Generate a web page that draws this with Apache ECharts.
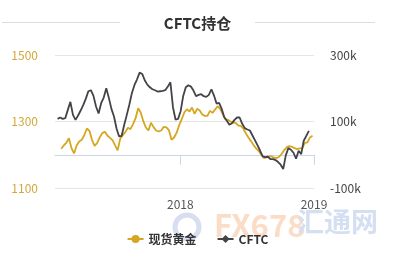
<!DOCTYPE html>
<html>
<head>
<meta charset="utf-8">
<script src="https://cdn.jsdelivr.net/npm/echarts@6/dist/echarts.min.js"></script>
<style>
html,body{margin:0;padding:0;background:#fff;}
#chart{width:395px;height:264px;}
</style>
</head>
<body>
<div id="chart"></div>
<script>
// ---- data ----
var titleText = 'CFTC持仓';
var seriesNames = ['现货黄金', 'CFTC'];
var goldStart = '2017-02-10';   // first weekly gold point
var cftcStart = '2017-01-31';   // first weekly CFTC point
var xMin = '2017-01-24';
var xMax = '2019-01-01';
var yearTicks = ['2018-01-01', '2019-01-01'];
var leftTicks = [1100, 1300, 1500];
var rightTicks = [-100, 100, 300]; // thousands of contracts

var goldValues = [
  1218,1228,1236,1250,1220,1204,1228,1240,1245,1259,
  1279,1272,1245,1227,1235,1252,1265,1269,1258,1251,
  1244,1228,1213,1248,1259,1268,1281,1277,1292,1310,
  1340,1327,1301,1282,1273,1296,1283,1273,1270,1273,
  1284,1282,1274,1245,1252,1266,1289,1307,1327,1337,
  1330,1342,1323,1338,1333,1321,1317,1317,1332,1326,
  1336,1346,1337,1322,1307,1305,1300,1297,1296,1288,
  1287,1279,1264,1252,1241,1229,1219,1211,1200,1190,
  1192,1195,1195,1191,1190,1194,1203,1214,1223,1226,
  1224,1220,1217,1219,1220,1236,1237,1252,1257
];
var cftcValues = [
  108,112,108,110,135,159,120,105,118,133,
  149,168,191,194,177,145,124,155,172,200,
  171,138,115,79,55,57,90,120,151,186,
  210,227,247,243,224,211,203,197,194,190,
  191,192,194,205,218,143,106,108,131,177,
  203,209,205,193,176,180,182,176,174,180,
  197,178,154,156,138,113,102,90,95,105,
  112,112,93,80,76,73,58,43,28,12,
  -5,-7,-6,-13,-13,-16,-22,-30,-43,-2,
  20,15,6,-12,12,2,42,57,72
];

// ---- build ----
function ts(s) { return new Date(s + 'T00:00:00Z').getTime(); }
function weekly(start, values) {
  var t0 = ts(start);
  return values.map(function (v, i) { return [t0 + i * 7 * 86400000, v]; });
}

var goldColor = '#d6a61f';
var cftcColor = '#434348';
var font = '"Noto Sans CJK SC","Noto Sans",sans-serif';

var chart = echarts.init(document.getElementById('chart'), null, {renderer: 'canvas'});
chart.setOption({
  animation: false,
  backgroundColor: '#fff',
  textStyle: {fontFamily: font},
  title: {
    text: titleText, left: 'center', top: 11,
    textStyle: {fontSize: 15, fontWeight: 'bold', color: '#333', fontFamily: font}
  },
  graphic: [
    {type: 'line', shape: {x1: 2, y1: 22.5, x2: 120, y2: 22.5}, style: {stroke: '#dcdcdc', lineWidth: 1}, silent: true},
    {type: 'line', shape: {x1: 255, y1: 22.5, x2: 375, y2: 22.5}, style: {stroke: '#dcdcdc', lineWidth: 1}, silent: true},
    {type: 'circle', shape: {cx: 187, cy: 227, r: 12}, style: {fill: 'none', stroke: '#d6def0', lineWidth: 5}, silent: true, z: 0},
    {type: 'text', left: 214, top: 210, style: {text: 'FX678', fill: '#fbdcc6', font: 'bold 31px ' + font}, silent: true, z: 0},
    {type: 'text', left: 297, top: 208, style: {text: '汇通网', fill: '#d5dff2', font: 'bold 27px ' + font}, silent: true, z: 0}
  ],
  legend: {
    data: seriesNames, bottom: 14, left: 'center', itemGap: 20,
    itemWidth: 16, itemHeight: 10,
    textStyle: {fontSize: 12, fontWeight: 'bold', color: '#333', fontFamily: font}
  },
  grid: {left: 55, right: 81, top: 55, bottom: 76},
  xAxis: {
    type: 'value', min: ts(xMin), max: ts(xMax),
    axisLine: {show: true, lineStyle: {color: '#ccd6eb'}},
    axisTick: {show: true, length: 10, lineStyle: {color: '#ccd6eb'}, customValues: yearTicks.map(ts)},
    axisLabel: {
      color: '#555', fontSize: 12, margin: 10, customValues: yearTicks.map(ts),
      formatter: function (v) { return String(new Date(v).getUTCFullYear()); }
    },
    splitLine: {show: false}
  },
  yAxis: [
    {
      type: 'value', min: leftTicks[0], max: leftTicks[leftTicks.length - 1], interval: 200,
      axisLine: {show: false}, axisTick: {show: false},
      axisLabel: {color: '#d4a83a', fontSize: 12, margin: 17, formatter: function (v) { return String(v); }},
      splitLine: {lineStyle: {color: '#e6e6e6'}}
    },
    {
      type: 'value', min: rightTicks[0], max: rightTicks[rightTicks.length - 1], interval: 200,
      axisLine: {show: false}, axisTick: {show: false},
      axisLabel: {color: '#444', fontSize: 12, margin: 16, formatter: function (v) { return v + 'k'; }},
      splitLine: {show: false}
    }
  ],
  series: [
    {
      name: seriesNames[0], type: 'line', yAxisIndex: 0, data: weekly(goldStart, goldValues),
      symbol: 'circle', symbolSize: 8, showSymbol: false,
      lineStyle: {color: goldColor, width: 1.8}, itemStyle: {color: goldColor}
    },
    {
      name: seriesNames[1], type: 'line', yAxisIndex: 1, data: weekly(cftcStart, cftcValues),
      symbol: 'diamond', symbolSize: 8, showSymbol: false,
      lineStyle: {color: cftcColor, width: 1.8}, itemStyle: {color: cftcColor}
    }
  ]
});
</script>
</body>
</html>
